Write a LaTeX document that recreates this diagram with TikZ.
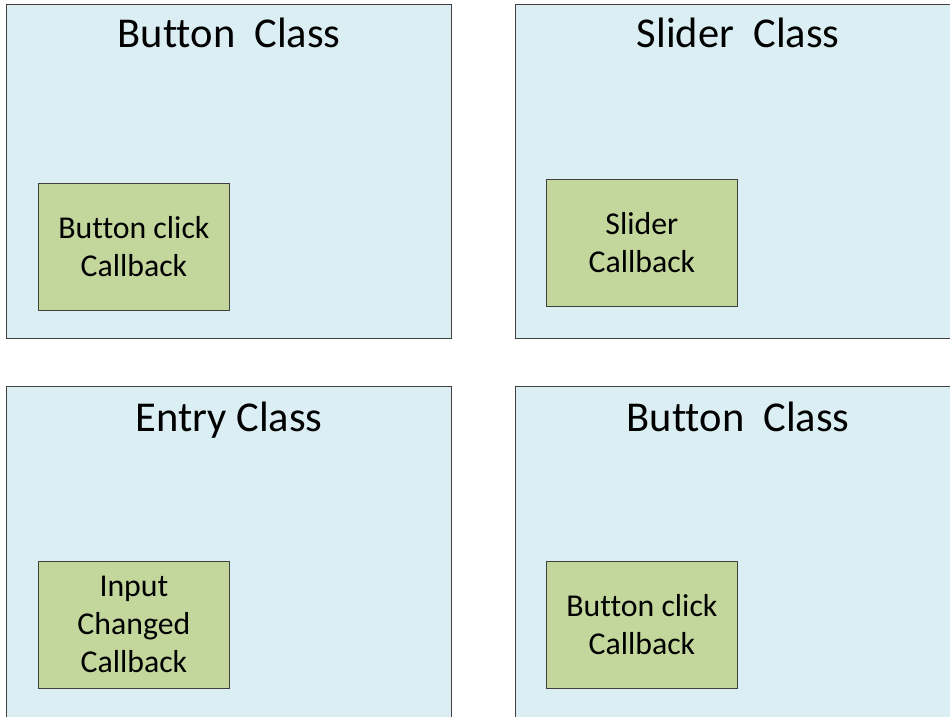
\documentclass[tikz,border=0pt]{standalone}
\usepackage{fontspec}
\setmainfont{Carlito}[Ligatures=NoCommon]
\usetikzlibrary{positioning}
\definecolor{celeste}{HTML}{DAEEF3}
\definecolor{oliva}{HTML}{C3D69B}
\definecolor{borde}{HTML}{404040}

\begin{document}
\begin{tikzpicture}[
  x=1pt, y=1pt,
  clase/.style={draw=borde, line width=1.3pt, fill=celeste, minimum width=445pt,
    minimum height=334pt, inner sep=0pt, anchor=north west},
  titulo/.style={font=\fontsize{42.5}{50}\selectfont, anchor=base},
  cb/.style={draw=borde, line width=0.8pt, fill=oliva, minimum width=191pt,
    minimum height=127pt, inner sep=0pt, align=center, anchor=north west,
    font=\fontsize{31.8}{38}\selectfont}
]
  \useasboundingbox (0,0) rectangle (950,716);
  % clases
  \node[clase] (c1) at (6,712) {};
  \node[clase] (c2) at (515,712) {};
  \node[clase] (c3) at (6,330) {};
  \node[clase] (c4) at (515,330) {};
  % titulos
  \node[titulo] (t1) at ([yshift=-44pt]c1.north) {Button\ \ Class};
  \node[titulo] (t2) at ([yshift=-44pt]c2.north) {Slider\ \ Class};
  \node[titulo] (t3) at ([yshift=-45pt]c3.north) {Entry Class};
  \node[titulo] (t4) at ([yshift=-45pt]c4.north) {Button\ \ Class};
  % callbacks
  \node[cb] (b1) at (38,533) {Button click\\Callback};
  \node[cb] (b2) at (546,537) {Slider\\Callback};
  \node[cb] (b3) at (38,155) {Input\\Changed\\Callback};
  \node[cb] (b4) at (546,155) {Button click\\Callback};
\end{tikzpicture}
\end{document}
